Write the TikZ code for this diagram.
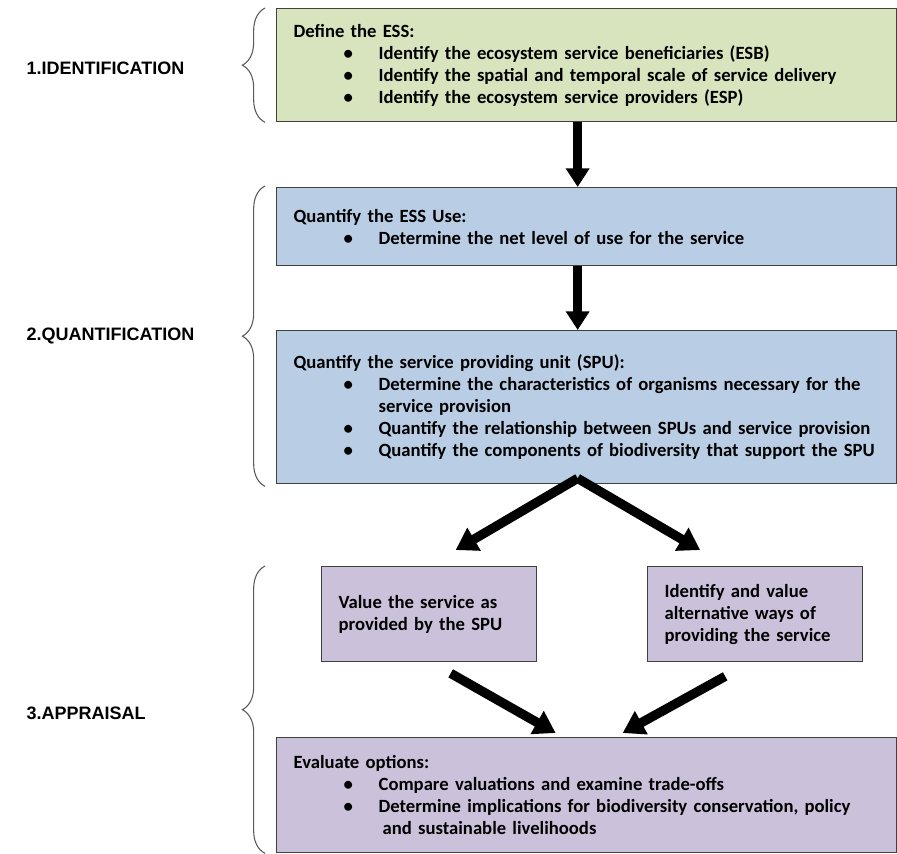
\documentclass[tikz,border=0pt]{standalone}
\usepackage{fontspec}
\setmainfont{Carlito}
\newfontfamily\stagefont{Liberation Sans}
\usetikzlibrary{arrows.meta,calc,decorations.pathreplacing}

\definecolor{essgreen}{HTML}{D7E4BD}
\definecolor{essblue}{HTML}{B9CDE5}
\definecolor{esspurple}{HTML}{CCC1DA}
\definecolor{boxline}{HTML}{404040}
\definecolor{braceline}{HTML}{595959}

% bullet line inside a box
\newcommand{\essitem}[1]{\\\hspace*{37.5pt}\makebox[26.25pt][l]{\textbullet}#1}

\tikzset{
  box/.style={draw=boxline, line width=1pt, anchor=north west, align=left,
    inner xsep=12.75pt, inner ysep=0pt, text width=439.5pt},
  smallbox/.style={box, fill=esspurple, text width=135.75pt, minimum height=71.25pt},
  bigarrow/.style={line width=7pt, -{Triangle[width=17pt,length=14pt]}},
  slantarrow/.style={line width=7pt, -{Triangle[width=19pt,length=16pt]}},
  stagebrace/.style={draw=braceline, line width=0.8pt, decorate,
    decoration={brace, amplitude=17pt}},
  stage/.style={anchor=west, font=\stagefont\bfseries\fontsize{13.5}{15}\selectfont}
}

\begin{document}
\begin{tikzpicture}[x=0.75pt, y=-0.75pt, font=\bfseries\fontsize{14}{16.5}\selectfont]
  \useasboundingbox (0, 0) rectangle (897, 854);

  % Identification
  \node [box, fill=essgreen, minimum height=84.75pt] (define) at (276, 8)
    {Define the ESS:
     \essitem{Identify the ecosystem service beneficiaries (ESB)}
     \essitem{Identify the spatial and temporal scale of service delivery}
     \essitem{Identify the ecosystem service providers (ESP)}};

  % Quantification
  \node [box, fill=essblue, minimum height=58.5pt] (use) at (276, 187)
    {Quantify the ESS Use:
     \essitem{Determine the net level of use for the service}};
  \node [box, fill=essblue, minimum height=114.75pt] (spu) at (276, 330)
    {Quantify the service providing unit (SPU):
     \essitem{Determine the characteristics of organisms necessary for the}
     \\\hspace*{63.75pt}service provision
     \essitem{Quantify the relationship between SPUs and service provision}
     \essitem{Quantify the components of biodiversity that support the SPU}};

  % Appraisal
  \node [smallbox] (value) at (321, 566)
    {Value the service as\\provided by the SPU};
  \node [smallbox] (alt) at (647, 566)
    {Identify and value\\alternative ways of\\providing the service};
  \node [box, fill=esspurple, minimum height=86.25pt] (evaluate) at (276, 737)
    {Evaluate options:
     \essitem{Compare valuations and examine trade-offs}
     \essitem{Determine implications for biodiversity conservation, policy}
     \\\hspace*{66.75pt}and sustainable livelihoods};

  % Arrows
  \draw [bigarrow] ($(define.south)+(-9, 0)$) -- ($(use.north)+(-9, 0)$);
  \draw [bigarrow] ($(use.south)+(-9, 0)$) -- ($(spu.north)+(-9, 0)$);
  \coordinate (split) at ($(spu.south)+(-9, -6)$);
  \draw [slantarrow] (split) -- ($(value.north)+(26.5, -16)$);
  \draw [slantarrow] (split) -- ($(alt.north)+(-55, -16)$);
  \draw [slantarrow] ($(value.south)+(21.5, 11)$) -- ($(evaluate.north)+(-31, -4)$);
  \draw [slantarrow] ($(alt.south)+(-30, 14)$) -- ($(evaluate.north)+(36, -4)$);

  % Braces
  \draw [stagebrace] ($(define.south west)+(-11, 0)$) -- ($(define.north west)+(-11, 0)$);
  \draw [stagebrace] ($(spu.south west)+(-11, 2)$) -- ($(use.north west)+(-11, -1)$);
  \draw [stagebrace] ($(evaluate.south west)+(-11, 0)$) -- ($(evaluate.west |- value.north)+(-11, 0)$);

  % Stage labels
  \node [stage] (ident) at (22, 68) {1.IDENTIFICATION};
  \node [stage] (quant) at (22, 336) {2.QUANTIFICATION};
  \node [stage] (apprais) at (22, 713) {3.APPRAISAL};
\end{tikzpicture}
\end{document}
